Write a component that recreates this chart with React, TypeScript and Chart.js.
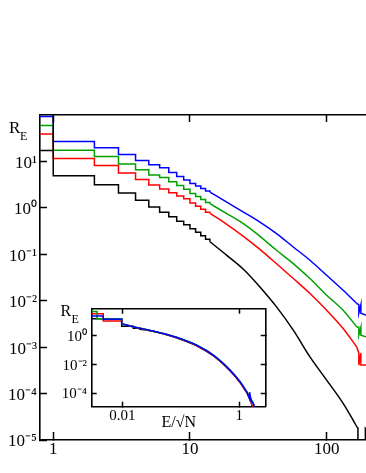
import React, { useEffect, useRef } from 'react';
import { Chart, registerables } from 'chart.js';
Chart.register(...registerables);

// ---------- Main plot data (E, R_E) ----------
const blackE = [0.5, 1, 1, 2, 3, 4, 5, 6, 7, 8, 9, 10, 11, 12, 13, 14, 18.6, 24.6, 32.5, 43, 57, 75.5, 100, 132, 156, 166, 169.4, 169.4, 192, 192, 260];
const blackR = [17.2, 1e4, 4.92, 3.16, 2.08, 1.45, 1.04, 0.8, 0.64, 0.513, 0.431, 0.353, 0.297, 0.25, 0.21, 0.186, 0.0951, 0.0476, 0.0198, 0.00736, 0.00232, 0.000618, 0.000195, 6.15e-5, 2.69e-5, 1.93e-5, 1.8e-5, 1e-9, 1e-9, 1.8e-5, 8e-6];

const colE = [0.5, 1, 2, 3, 4, 5, 6, 7, 8, 9, 10, 11, 12, 13, 14, 18.6, 24.6, 32.5, 43, 57, 75.5, 100, 132, 166, 172, 172, 175, 178, 178, 194, 260];
const redR = [39.0, 11.6, 8.2, 5.6, 4.1, 3.12, 2.54, 2.11, 1.8, 1.57, 1.27, 1.08, 0.929, 0.809, 0.762, 0.442, 0.244, 0.128, 0.0625, 0.03, 0.0143, 0.00625, 0.00252, 0.00101, 0.00074, 0.00041, 0.00055, 0.00074, 0.00041, 0.00041, 0.0002];
const greenR = [59.4, 17.5, 12.8, 8.75, 6.63, 5.07, 4.53, 3.66, 3.03, 2.52, 2.05, 1.75, 1.51, 1.31, 1.23, 0.75, 0.457, 0.244, 0.122, 0.0631, 0.03, 0.0131, 0.00625, 0.00273, 0.00269, 0.00181, 0.0022, 0.00269, 0.00181, 0.00167, 0.0008];
const blueR = [92.9, 26.9, 19.7, 14.1, 10.5, 8.49, 7.32, 5.77, 4.71, 3.96, 3.36, 2.94, 2.6, 2.31, 2.19, 1.33, 0.812, 0.495, 0.279, 0.1436, 0.0743, 0.0353, 0.0168, 0.0087, 0.0082, 0.0054, 0.0066, 0.0082, 0.0054, 0.0049, 0.0028];

// ---------- Inset data (E/sqrt(N), R_E) ----------
const insBlackX = [0.003, 0.00977, 0.0154, 0.0195, 0.0261, 0.0502, 0.0968, 0.187, 0.36, 0.693, 1.03, 1.34, 1.6, 1.7];
const insBlackY = [16.1, 4.72, 3.4, 3.0, 2.6, 1.4, 0.62, 0.21, 0.042, 0.004, 6.0e-4, 1.2e-4, 2.7e-5, 5e-6];
const insRedX = [0.003, 0.00473, 0.00977, 0.0154, 0.0261, 0.0502, 0.0968, 0.187, 0.36, 0.693, 1.03, 1.34, 1.6, 1.75];
const insRedY = [35.9, 11.0, 7.26, 4.3, 2.72, 1.44, 0.64, 0.218, 0.043, 0.0038, 5.6e-4, 1.1e-4, 2.5e-5, 5e-6];
const insGreenX = [0.003, 0.0037, 0.00977, 0.0154, 0.0261, 0.0502, 0.0968, 0.187, 0.36, 0.693, 1.03, 1.34, 1.73, 1.9];
const insGreenY = [51.9, 16.1, 7.0, 4.4, 2.8, 1.48, 0.665, 0.228, 0.047, 0.0043, 6.6e-4, 1.35e-4, 2.2e-5, 5e-6];
const insBlueX = [0.003, 0.00473, 0.00977, 0.0154, 0.0261, 0.0502, 0.0968, 0.187, 0.36, 0.693, 1.03, 1.34, 1.5, 1.5, 1.6, 1.73, 2.0];
const insBlueY = [24.5, 14.5, 7.26, 4.4, 2.78, 1.47, 0.66, 0.226, 0.0457, 0.00415, 6.4e-4, 1.29e-4, 4e-5, 1.2e-4, 3e-5, 2.0e-5, 5e-6];

// ---------- Tick values ----------
const mainXTicks = [1, 10, 100];
const mainYTicks = [1e-5, 1e-4, 1e-3, 1e-2, 1e-1, 1, 10];
const insXTicks = [0.01, 1];
const insYTicks = [1e-4, 1e-2, 1];

const FAMILY = "'Liberation Serif', 'Times New Roman', serif";
const COLORS = { black: '#000000', red: '#ff0000', green: '#00a000', blue: '#0000ff' };

type P = { x: number; y: number };
// split a histogram into: stepped part (x <= stepMax), smooth part, straight tail (x >= smoothMax)
function parts(xs: number[], ys: number[], stepMax: number, smoothMax: number): P[][] {
  const step: P[] = [];
  const smooth: P[] = [];
  const tail: P[] = [];
  for (let i = 0; i < xs.length; i++) {
    if (xs[i] <= stepMax) {
      step.push({ x: xs[i], y: ys[i] });
      if (i + 1 < xs.length && xs[i + 1] <= stepMax) step.push({ x: xs[i + 1], y: ys[i] });
    }
    if (xs[i] >= stepMax && xs[i] <= smoothMax) smooth.push({ x: xs[i], y: ys[i] });
    if (xs[i] >= smoothMax) tail.push({ x: xs[i], y: ys[i] });
  }
  return [step, smooth, tail];
}

function seriesDatasets(xs: number[], ys: number[], stepMax: number, smoothMax: number, color: string, order: number) {
  const [step, smooth, tail] = parts(xs, ys, stepMax, smoothMax);
  const base = { borderColor: color, borderWidth: 1.5, pointRadius: 0, fill: false, order, xAxisID: 'x', yAxisID: 'y' };
  return [
    { ...base, data: step, tension: 0 },
    { ...base, data: smooth, tension: 0.4, cubicInterpolationMode: 'monotone' },
    { ...base, data: tail, tension: 0 },
  ];
}

const SUP: Record<string, string> = { '0': '⁰', '1': '¹', '2': '²', '3': '³', '4': '⁴', '5': '⁵', '6': '⁶', '-': '⁻' };
function pow10Label(v: number) {
  const e = Math.round(Math.log10(v));
  return '10' + String(e).split('').map((c) => SUP[c]).join('');
}
function numLabel(v: number) {
  return String(Number(v.toPrecision(3)));
}

function textPlugin(items: { text: string; x: number; y: number; size: number }[]) {
  return {
    id: 'textLabels',
    afterDraw(chart: any) {
      const ctx = chart.ctx;
      ctx.save();
      ctx.fillStyle = '#000';
      ctx.textAlign = 'left';
      ctx.textBaseline = 'alphabetic';
      for (const it of items) {
        ctx.font = `${it.size}px ${FAMILY}`;
        ctx.fillText(it.text, it.x, it.y);
      }
      ctx.restore();
    },
  };
}

function axis(opts: any) {
  const { ticksArr, min, max, position, tickLen, fit, labelFmt, font, padding, labelOffset, show, title } = opts;
  const horizontal = position === 'bottom' || position === 'top';
  return {
    type: 'logarithmic',
    position,
    min,
    max,
    afterBuildTicks: (s: any) => {
      s.ticks = ticksArr.map((v: number) => ({ value: v }));
    },
    afterFit: (s: any) => {
      if (horizontal) s.height = fit;
      else s.width = fit;
    },
    ticks: {
      display: show,
      callback: (v: number) => labelFmt(v),
      font: { family: FAMILY, size: font },
      color: '#000',
      padding,
      labelOffset: labelOffset || 0,
      maxRotation: 0,
      minRotation: 0,
      autoSkip: false,
    },
    grid: {
      display: true,
      drawOnChartArea: false,
      drawTicks: true,
      tickLength: -tickLen,
      tickWidth: 1.5,
      tickColor: '#000',
    },
    border: { display: true, color: '#000', width: 1.6 },
    title: title || { display: false },
  };
}

export default function App() {
  const mainRef = useRef<HTMLCanvasElement>(null);
  const insetRef = useRef<HTMLCanvasElement>(null);

  useEffect(() => {
    const mainXMin = 0.8;
    const mainXMax = 344;
    const main = new Chart(mainRef.current as HTMLCanvasElement, {
      type: 'line',
      data: {
        datasets: [
          ...seriesDatasets(blackE, blackR, 14, 166, COLORS.black, 1),
          ...seriesDatasets(colE, redR, 14, 166, COLORS.red, 2),
          ...seriesDatasets(colE, greenR, 14, 166, COLORS.green, 3),
          ...seriesDatasets(colE, blueR, 14, 166, COLORS.blue, 4),
        ],
      },
      options: {
        animation: false,
        responsive: false,
        maintainAspectRatio: false,
        layout: { padding: { top: 115, right: 20, left: 0, bottom: 0 } },
        plugins: { legend: { display: false }, tooltip: { enabled: false } },
        scales: {
          x: axis({ ticksArr: mainXTicks, min: mainXMin, max: mainXMax, position: 'bottom', tickLen: 8, fit: 33, labelFmt: numLabel, font: 17, padding: 7, show: true }),
          xTop: axis({ ticksArr: mainXTicks, min: mainXMin, max: mainXMax, position: 'top', tickLen: 7, fit: 0, labelFmt: numLabel, font: 17, padding: 0, show: false }),
          y: axis({ ticksArr: mainYTicks, min: 1e-5, max: 100, position: 'left', tickLen: 7, fit: 40, labelFmt: pow10Label, font: 17, padding: 10, labelOffset: 2, show: true }),
        },
      } as any,
      plugins: [
        textPlugin([
          { text: 'R', x: 9, y: 133.3, size: 17 },
          { text: 'E', x: 20, y: 140, size: 12 },
        ]),
      ],
    } as any);

    const insXMin = 0.003;
    const insXMax = 2.83;
    const insYMin = 1.17e-5;
    const insYMax = 80;
    const inset = new Chart(insetRef.current as HTMLCanvasElement, {
      type: 'line',
      data: {
        datasets: [
          ...seriesDatasets(insBlueX, insBlueY, 0.00977, 1.34, COLORS.blue, 1),
          ...seriesDatasets(insGreenX, insGreenY, 0.00977, 1.34, COLORS.green, 2),
          ...seriesDatasets(insRedX, insRedY, 0.00977, 1.34, COLORS.red, 3),
          ...seriesDatasets(insBlackX, insBlackY, 0.0195, 1.34, COLORS.black, 4),
        ],
      },
      options: {
        animation: false,
        responsive: false,
        maintainAspectRatio: false,
        layout: { padding: { top: 18.3, right: 34.3, left: 0, bottom: 0 } },
        plugins: { legend: { display: false }, tooltip: { enabled: false } },
        scales: {
          x: axis({
            ticksArr: insXTicks, min: insXMin, max: insXMax, position: 'bottom', tickLen: 5, fit: 33.3, labelFmt: numLabel, font: 15, padding: 5, show: true,
            title: { display: true, text: 'E/√N', color: '#000', font: { family: FAMILY, size: 16 }, padding: { top: 0, bottom: 8 } },
          }),
          xTop: axis({ ticksArr: insXTicks, min: insXMin, max: insXMax, position: 'top', tickLen: 5, fit: 0, labelFmt: numLabel, font: 15, padding: 0, show: false }),
          y: axis({ ticksArr: insYTicks, min: insYMin, max: insYMax, position: 'left', tickLen: 5, fit: 51.7, labelFmt: pow10Label, font: 15, padding: 9.7, labelOffset: 1, show: true }),
          yRight: axis({ ticksArr: insYTicks, min: insYMin, max: insYMax, position: 'right', tickLen: 5, fit: 0, labelFmt: pow10Label, font: 15, padding: 0, show: false }),
        },
      } as any,
      plugins: [
        textPlugin([
          { text: 'R', x: 20.5, y: 25.7, size: 16 },
          { text: 'E', x: 31.5, y: 33.3, size: 12 },
        ]),
      ],
    } as any);

    return () => {
      main.destroy();
      inset.destroy();
    };
  }, []);

  return (
    <div style={{ position: 'absolute', left: 0, top: 0, width: 366, height: 473, overflow: 'hidden', background: '#fff' }}>
      <canvas ref={mainRef} width={420} height={473} style={{ position: 'absolute', left: 0, top: 0, width: 420, height: 473 }} />
      <canvas ref={insetRef} width={260} height={150} style={{ position: 'absolute', left: 40, top: 290, width: 260, height: 150 }} />
    </div>
  );
}
